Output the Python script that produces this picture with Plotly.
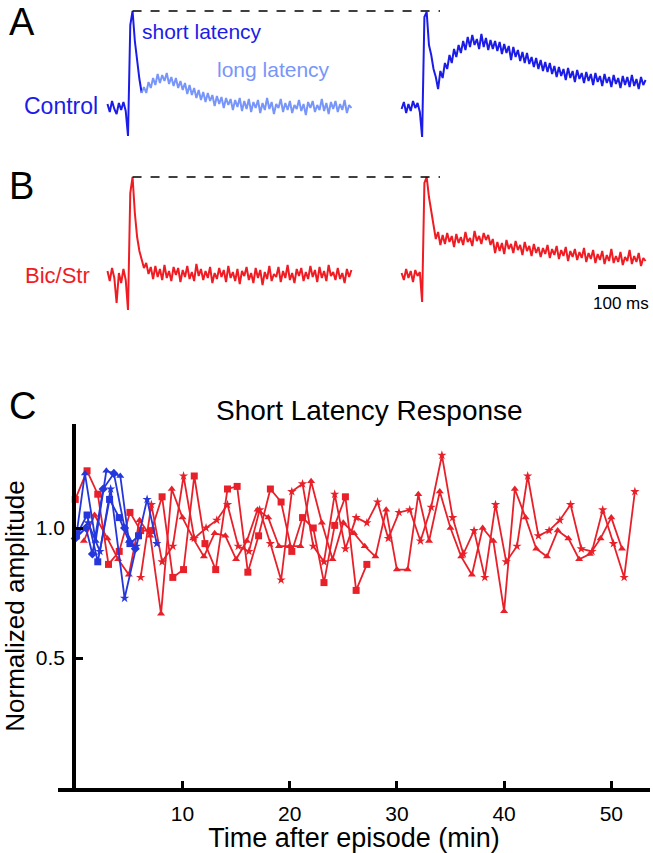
import plotly.graph_objects as go

W, H = 653, 853
FONT = "Liberation Sans, Arial, Helvetica, sans-serif"

BLUE = "#1c1ce8"
LIGHT_BLUE = "#7896fa"
RED = "#f01c24"
C_RED = "#e8202a"
C_BLUE = "#2436dc"

# ---- panels A / B : sweeps, time in ms from the stimulus (6 ms samples) ----
sweep_t = list(range(-54, 589, 6))

# Control, first and second stimulus (amplitude above baseline, a.u.)
ctrl_first = [3, -5, 6, -2, -7, 4, -3, 5, -4, -29, 82, 96, 66, 44, 28, 14,
              20, 14, 25, 19, 29, 22, 33, 24, 32, 26, 34, 23, 30, 21, 29, 19,
              26, 17, 24, 13, 22, 12, 19, 9, 17, 7, 15, 5, 14, 6, 12, 1,
              11, 3, 10, -1, 9, 2, 8, -3, 7, 0, 9, -4, 6, -2, 8, -5,
              5, -1, 7, -6, 4, -3, 9, -2, 5, -7, 3, -1, 8, -5, 4, -3,
              6, -6, 2, -2, 7, -4, 3, -8, 5, -1, 6, -5, 2, -3, 8, -4,
              4, -7, 5, -2, 6, -5, 3, -3, 7, -6, 2, -1]
ctrl_second = [-2, 5, -6, 3, -4, 6, -1, 4, -5, -30, 90, 95, 62, 52, 38, 30,
               18, 36, 29, 44, 38, 52, 44, 58, 50, 62, 54, 66, 57, 70, 60, 72,
               62, 68, 58, 73, 60, 69, 57, 67, 58, 66, 56, 65, 53, 63, 54, 61,
               47, 60, 50, 57, 46, 55, 44, 54, 43, 50, 40, 49, 38, 47, 36, 45,
               35, 44, 33, 41, 30, 40, 31, 38, 27, 39, 29, 36, 25, 37, 28, 34,
               24, 35, 26, 33, 22, 34, 25, 31, 21, 33, 24, 30, 20, 32, 23, 29,
               19, 31, 22, 30, 20, 32, 21, 28, 18, 30, 22, 27]

# Bicuculline / strychnine
bic_first = [4, -6, 7, -3, -28, 2, -8, 6, -5, -35, 82, 98, 62, 38, 24, 16,
             7, 12, 1, 8, -4, 9, -2, 6, -5, 10, -3, 4, -6, 8, 0, 7,
             -7, 5, -2, 9, -4, 3, -6, 11, -1, 6, -5, 4, -3, 8, -8, 2,
             -4, 7, -2, 5, -7, 9, -3, 3, -6, 6, -9, 4, -1, 8, -5, 2,
             -8, 7, -3, 5, -10, 3, -4, 9, -6, 1, -2, 8, -7, 4, -3, 10,
             -5, 2, -8, 6, -1, 7, -6, 3, -4, 9, -2, 5, -7, 8, -3, 4,
             -6, 10, -1, 3, -5, 7, -4, 2, -8, 6, -2, 5]
bic_second = [2, -5, 6, -3, 4, -7, 5, -1, 3, -27, 92, 98, 78, 62, 50, 36,
              43, 30, 40, 31, 42, 33, 39, 28, 41, 32, 38, 30, 43, 33, 37, 29,
              44, 34, 39, 31, 42, 35, 40, 30, 36, 22, 33, 24, 32, 21, 35, 26,
              31, 22, 34, 25, 30, 20, 33, 24, 29, 19, 31, 22, 28, 18, 27, 21,
              30, 17, 26, 20, 29, 16, 25, 19, 28, 14, 24, 18, 26, 15, 23, 17,
              27, 13, 22, 16, 25, 12, 21, 15, 24, 11, 20, 14, 26, 12, 19, 13,
              23, 10, 18, 14, 25, 11, 19, 13, 22, 9, 17, 14]

SECOND_DELAY = 774      # ms between the two sweeps as laid out
SCALE_BAR_MS = 100

# ---- panel C : short latency response, normalized amplitude ----
bic_sq_t = [0.0, 1.1, 2.1, 3.1, 4.1, 5.1, 6.1, 7.1, 8.1, 9.1, 10.1, 11.1, 12.1, 13.1,
            14.2, 15.1, 16.1, 17.1, 18.2, 19.2, 20.2, 21.2, 22.2, 23.2, 24.2, 25.2, 26.2, 27.2]
bic_sq_amp = [1.11, 1.22, 1.13, 0.86, 0.91, 1.06, 0.99, 0.99, 1.12, 0.81, 0.84, 1.20, 0.94, 0.84,
              1.15, 1.16, 0.83, 0.97, 1.15, 1.10, 0.91, 1.04, 1.00, 0.79, 1.01, 1.12, 0.76, 0.86]

bic_tri_t = [0.8, 1.8, 3, 4, 5, 6, 7, 8, 9, 10, 11, 12, 13, 14, 15, 16, 17, 18, 19, 20,
             21, 22, 23, 24, 25, 26, 27, 28, 29, 30, 31, 32, 33, 34, 35, 36, 37, 38, 39, 40,
             41, 42, 43, 44, 45, 46, 47, 48, 49, 50, 51]
bic_tri_amp = [0.95, 1.05, 0.96, 0.88, 0.82, 1.03, 0.97, 0.67, 1.15, 1.04, 0.96, 0.89, 0.98, 0.97,
               0.88, 0.95, 1.07, 1.04, 0.93, 0.93, 0.93, 1.18, 1.02, 0.88, 1.02, 0.98, 0.93, 0.89,
               1.07, 0.84, 0.84, 1.13, 0.95, 1.14, 1.00, 0.89, 0.82, 1.00, 0.95, 0.68, 1.15, 1.04,
               0.92, 0.89, 0.99, 0.96, 0.88, 0.90, 0.96, 1.04, 0.92]

bic_star_t = [6.1, 7.1, 8.1, 9.1, 10.1, 11.1, 12.2, 13.2, 14.2, 15.2, 16.2, 17.2, 18.2, 19.2,
              20.2, 21.2, 22.2, 23.2, 24.2, 25.2, 26.2, 27.2, 28.2, 29.2, 30.2, 31.2, 32.2, 33.2,
              34.2, 35.2, 36.2, 37.2, 38.2, 39.2, 40.2, 41.2, 42.2, 43.2, 44.2, 45.2, 46.2, 47.2,
              48.2, 49.2, 50.2, 51.2, 52.2]
bic_star_amp = [0.81, 1.09, 0.87, 0.93, 1.20, 0.96, 1.00, 1.03, 1.09, 0.93, 0.91, 1.07, 0.94, 0.80,
                1.14, 1.17, 0.93, 0.87, 1.13, 0.92, 1.04, 1.02, 1.10, 0.96, 1.06, 1.07, 0.95, 1.08,
                1.28, 1.04, 0.90, 0.99, 0.81, 1.09, 0.87, 0.93, 1.20, 0.97, 0.99, 1.03, 1.09, 0.92,
                0.91, 1.07, 0.94, 0.81, 1.14]

ctrl_tri_t = [0.1, 0.9, 1.9, 2.9, 4.2, 5.0]
ctrl_tri_amp = [0.97, 1.21, 0.95, 1.22, 1.20, 0.95]
ctrl_sq_t = [0.1, 1.1, 2.1, 3.2, 4.1, 5.1, 5.9]
ctrl_sq_amp = [0.97, 1.05, 0.87, 1.11, 1.04, 0.94, 0.97]
ctrl_star_t = [0.2, 1.2, 2.3, 3.3, 4.6, 5.7, 6.7, 7.6]
ctrl_star_amp = [0.98, 1.02, 0.91, 1.15, 0.73, 0.93, 1.11, 0.94]
ctrl_dia_t = [0.0, 1.0, 1.6, 2.6, 3.6, 4.6, 5.6]
ctrl_dia_amp = [0.96, 1.00, 0.90, 1.15, 1.21, 1.00, 0.92]

x_ticks = [10, 20, 30, 40, 50]
y_ticks = [0.5, 1.0]
y_tick_text = ["0.5", "1.0"]


def px(x):
    return x / W


def py(row):
    return 1 - row / H


fig = go.Figure()

# --- sweeps ---
shifted = [t + SECOND_DELAY for t in sweep_t]
sweeps = [
    (sweep_t[:16], ctrl_first[:16], "2", BLUE),
    (sweep_t[15:], ctrl_first[15:], "2", LIGHT_BLUE),   # long latency part
    (shifted, ctrl_second, "2", BLUE),
    (sweep_t, bic_first, "3", RED),
    (shifted, bic_second, "3", RED),
]
for t, v, ax, col in sweeps:
    fig.add_trace(go.Scatter(x=t, y=v, mode="lines", xaxis="x" + ax, yaxis="y" + ax,
                             line=dict(color=col, width=2)))

# dashed reference at the first response peak
dash_end = (440 - 128) / 0.38
for sweep, ax in [(ctrl_first, "2"), (bic_first, "3")]:
    pk = max(sweep)
    fig.add_shape(type="line", xref="x" + ax, yref="y" + ax,
                  x0=sweep_t[sweep.index(pk)], x1=dash_end, y0=pk, y1=pk,
                  line=dict(color="black", width=1.5, dash="dash"))

# scale bar
bar_x0 = (598 - 128) / 0.38
fig.add_shape(type="line", xref="x3", yref="y3", x0=bar_x0, x1=bar_x0 + SCALE_BAR_MS,
              y0=-12, y1=-12, line=dict(color="black", width=4))

# --- panel C ---
series_c = [
    (bic_sq_t, bic_sq_amp, C_RED, "square"),
    (bic_tri_t, bic_tri_amp, C_RED, "triangle-up"),
    (bic_star_t, bic_star_amp, C_RED, "star"),
    (ctrl_tri_t, ctrl_tri_amp, C_BLUE, "triangle-up"),
    (ctrl_sq_t, ctrl_sq_amp, C_BLUE, "square"),
    (ctrl_star_t, ctrl_star_amp, C_BLUE, "star"),
    (ctrl_dia_t, ctrl_dia_amp, C_BLUE, "diamond"),
]
for t, a, col, sym in series_c:
    fig.add_trace(go.Scatter(x=t, y=a, mode="lines+markers",
                             line=dict(color=col, width=1.8),
                             marker=dict(symbol=sym, size=7, color=col)))

sweep_range = [-128 / 0.38, (W - 128) / 0.38]
fig.update_layout(
    width=W, height=H,
    margin=dict(l=0, r=0, t=0, b=0),
    paper_bgcolor="white", plot_bgcolor="white",
    showlegend=False,
    font=dict(family=FONT, color="black"),
    xaxis=dict(domain=[px(58), px(650)], range=[-1.61, 53.61], anchor="y",
               showline=True, linewidth=3.5, linecolor="black", showgrid=False,
               zeroline=False, ticks="inside", ticklen=7, tickwidth=3, tickcolor="black",
               tickvals=x_ticks, tickfont=dict(size=21), ticklabelstandoff=4,
               title=dict(text="Time after episode (min)", font=dict(size=27), standoff=8)),
    yaxis=dict(domain=[py(788), py(424)], range=[0, 1.4], anchor="free", position=px(74),
               showline=True, linewidth=3.5, linecolor="black", showgrid=False,
               zeroline=False, ticks="inside", ticklen=7, tickwidth=3, tickcolor="black",
               tickvals=y_ticks, ticktext=y_tick_text, tickfont=dict(size=21),
               ticklabelstandoff=3,
               title=dict(text="Normalized amplitude", font=dict(size=26), standoff=9)),
    xaxis2=dict(domain=[0, 1], range=sweep_range, visible=False, anchor="y2"),
    yaxis2=dict(domain=[py(145), py(0)], range=[-38, 107], visible=False, anchor="x2"),
    xaxis3=dict(domain=[0, 1], range=sweep_range, visible=False, anchor="y3"),
    yaxis3=dict(domain=[py(320), py(160)], range=[-45, 115], visible=False, anchor="x3"),
)

labels = [
    ("A", 7, 22, 38, "black", "left"),
    ("B", 7, 186, 38, "black", "left"),
    ("C", 7, 406, 38, "black", "left"),
    ("short latency", 140, 32, 21, BLUE, "left"),
    ("long latency", 215, 70, 21, LIGHT_BLUE, "left"),
    ("Control", 22, 106, 23, BLUE, "left"),
    ("Bic/Str", 23, 275, 22, RED, "left"),
    ("100 ms", 651, 303, 17, "black", "right"),
    ("Short Latency Response", 369, 410, 28, "black", "center"),
]
for txt, x, row, size, col, anchor in labels:
    fig.add_annotation(text=txt, x=px(x), y=py(row), xref="paper", yref="paper",
                       xanchor=anchor, yanchor="middle", showarrow=False,
                       font=dict(size=size, color=col, family=FONT))

# page body margin would shift the figure by 8 px
fig.write_html("out.html", config={"displayModeBar": False},
               post_script="document.body.style.margin = '0';")
